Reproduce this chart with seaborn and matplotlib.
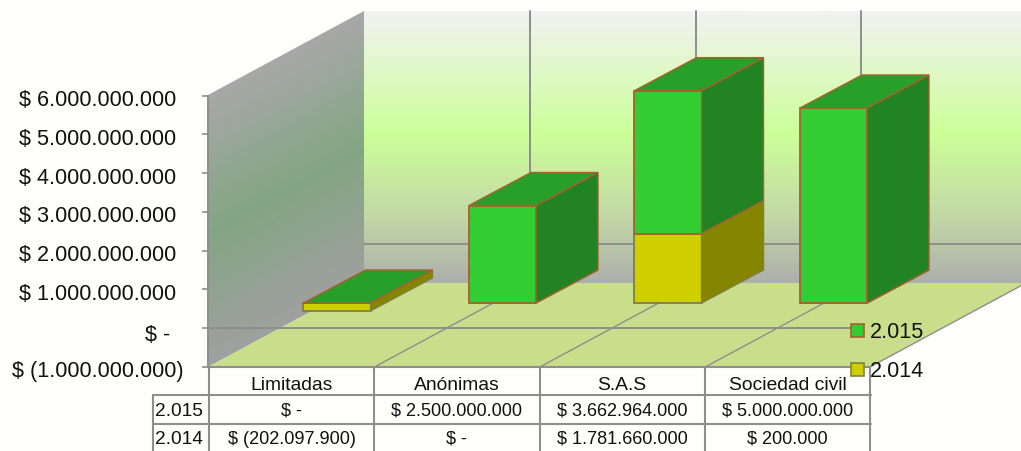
import matplotlib
matplotlib.use('Agg')
import matplotlib.pyplot as plt
import numpy as np
import seaborn as sns
from matplotlib.colors import LinearSegmentedColormap
from matplotlib.patches import Patch, Polygon
from matplotlib.transforms import ScaledTranslation

# Datos
categorias = ['Limitadas', 'Anónimas', 'S.A.S', 'Sociedad civil']
valores_2015 = [0, 2500000000, 3662964000, 5000000000]
valores_2014 = [-202097900, 0, 1781660000, 200000]
series = ['2.015', '2.014']
ticks_y = [-1000000000, 0, 1000000000, 2000000000, 3000000000,
           4000000000, 5000000000, 6000000000]

ANCHO, ALTO = 1021, 451
FONDO = '#FEFFFA'
GRIS = '#8E8E8E'
VERDE, VERDE_LADO, VERDE_TOPE = '#33CC33', '#228322', '#289F28'
AMARILLO, AMARILLO_LADO = '#CFCF00', '#858500'
BORDE_VERDE, BORDE_AMARILLO = '#A8602F', '#7F8040'


def formato(valor):
    # Formato contable con punto de miles
    if valor == 0:
        return '$ -'
    texto = f'{abs(valor):,.0f}'.replace(',', '.')
    return f'$ ({texto})' if valor < 0 else f'$ {texto}'


sns.set_theme(style='white')
plt.rcParams['font.family'] = ['Liberation Sans', 'DejaVu Sans']

fig = plt.figure(figsize=(ANCHO / 100, ALTO / 100), dpi=100, facecolor=FONDO)

# Paredes, piso y tabla en coordenadas de pixel
ax_fondo = fig.add_axes([0, 0, 1, 1], zorder=0)
ax_fondo.set_xlim(0, ANCHO)
ax_fondo.set_ylim(ALTO, 0)
ax_fondo.axis('off')

cmap_atras = LinearSegmentedColormap.from_list(
    'atras', [(0, '#F2F2F2'), (0.45, '#CCFF99'), (0.75, '#C3D8A6'), (1, '#ADAFAC')])
ax_fondo.imshow(np.linspace(0, 1, 256).reshape(-1, 1), cmap=cmap_atras, aspect='auto',
                extent=(364, ANCHO, 284, 11), zorder=1)

cmap_pared = LinearSegmentedColormap.from_list(
    'pared', [(0, '#A8A8A8'), (0.5, '#83A683'), (1, '#A0A0A0')])
xx, yy = np.meshgrid(np.linspace(208, 364, 160), np.linspace(11, 367, 360))
t = np.clip((yy + (xx - 208) * 84 / 156 - 95) / 272, 0, 1)
img = ax_fondo.imshow(t, cmap=cmap_pared, aspect='auto', extent=(208, 364, 367, 11), zorder=1)
pared = Polygon([(208, 95), (364, 11), (364, 283), (208, 367)], transform=ax_fondo.transData)
img.set_clip_path(pared)
ax_fondo.set_xlim(0, ANCHO)
ax_fondo.set_ylim(ALTO, 0)

ax_fondo.add_patch(Polygon([(208, 367), (870, 367), (1026, 283), (364, 283)],
                           facecolor='#C9DE8A', edgecolor='none', zorder=2))

# Lineas de division
ax_fondo.plot([364, ANCHO], [244, 244], color=GRIS, lw=1.4, zorder=2)
ax_fondo.plot([208, 852], [328, 328], color=GRIS, lw=1.4, zorder=3)
for k in range(1, 4):
    x0 = 209 + 165.4 * k
    ax_fondo.plot([x0 + 156, x0 + 156], [11, 284], color=GRIS, lw=1.4, zorder=2)
    ax_fondo.plot([x0, x0 + 156], [367, 283], color=GRIS, lw=1, zorder=3)
ax_fondo.plot([870, 1026], [367, 283], color=GRIS, lw=1, zorder=3)

# Tabla de datos
for k in range(5):
    x0 = 209 + 165.25 * k
    ax_fondo.plot([x0, x0], [367, ALTO], color=GRIS, lw=1.5, zorder=3)
ax_fondo.plot([209, 870], [367, 367], color=GRIS, lw=1.5, zorder=3)
ax_fondo.plot([153, 871], [395, 395], color=GRIS, lw=1.5, zorder=3)
ax_fondo.plot([153, 871], [424, 424], color=GRIS, lw=1.5, zorder=3)
ax_fondo.plot([153, 153], [395, ALTO], color=GRIS, lw=1.5, zorder=3)

for k, cat in enumerate(categorias):
    xc = 209 + 165.25 * (k + 0.5)
    ax_fondo.text(xc, 385, cat, ha='center', va='center', fontsize=13.9, color='#111111')
    ax_fondo.text(xc, 411, formato(valores_2015[k]), ha='center', va='center', fontsize=13.1, color='#111111')
    ax_fondo.text(xc, 439, formato(valores_2014[k]), ha='center', va='center', fontsize=13.1, color='#111111')
ax_fondo.text(179, 412, series[0], ha='center', va='center', fontsize=13.8, color='#111111')
ax_fondo.text(179, 440, series[1], ha='center', va='center', fontsize=13.8, color='#111111')

# Barras: la cara frontal con seaborn, los lados con poligonos
ax = fig.add_axes([0, 0, 1, 1], zorder=1)
ax.patch.set_alpha(0)
base_2015 = [max(v, 0) for v in valores_2014]
sns.barplot(x=categorias, y=valores_2014, color=AMARILLO, saturation=1, width=0.405,
            edgecolor=BORDE_AMARILLO, linewidth=1.3, ax=ax)
sns.barplot(x=categorias, y=valores_2015, bottom=base_2015, color=VERDE, saturation=1, width=0.405,
            edgecolor=BORDE_VERDE, linewidth=1.3, ax=ax)

PX_X, PX_Y = 165.5, 39e-9
ax.set_xlim(-337 / PX_X, (ANCHO - 337) / PX_X)
ax.set_ylim((303 - ALTO) / PX_Y, 303 / PX_Y)
ax.axis('off')

dx, dy = 62 / PX_X, 33 / PX_Y
for i in range(len(categorias)):
    der = i + 0.405 / 2
    izq = i - 0.405 / 2
    v14 = valores_2014[i]
    tope = base_2015[i] + valores_2015[i]
    ax.add_patch(Polygon([(der, min(v14, 0)), (der + dx, min(v14, 0) + dy),
                          (der + dx, max(v14, 0) + dy), (der, max(v14, 0))],
                         facecolor=AMARILLO_LADO, edgecolor=BORDE_AMARILLO, lw=1, zorder=1))
    ax.add_patch(Polygon([(der, base_2015[i]), (der + dx, base_2015[i] + dy),
                          (der + dx, tope + dy), (der, tope)],
                         facecolor=VERDE_LADO, edgecolor=BORDE_VERDE, lw=1, zorder=1))
    ax.add_patch(Polygon([(izq, tope), (der, tope), (der + dx, tope + dy), (izq + dx, tope + dy)],
                         facecolor=VERDE_TOPE, edgecolor=BORDE_VERDE, lw=1, zorder=1))

# Eje Y
ax_y = fig.add_axes([208 / ANCHO, 1 - 367 / ALTO, 0.001, (367 - 95.7) / ALTO], zorder=2)
ax_y.patch.set_alpha(0)
ax_y.set_ylim(ticks_y[0], ticks_y[-1])
ax_y.set_xticks([])
ax_y.set_yticks(ticks_y)
ax_y.set_yticklabels([formato(v) for v in ticks_y], fontsize=15.6, color='#111111')
ax_y.tick_params(axis='y', length=4, width=1.2, color=GRIS, pad=19.2, left=True)
for lado in ['top', 'right', 'bottom']:
    ax_y.spines[lado].set_visible(False)
ax_y.spines['left'].set_color(GRIS)
ax_y.spines['left'].set_linewidth(1.4)
for v, etiqueta in zip(ticks_y, ax_y.get_yticklabels()):
    extra = 8 if v < 0 else (-6 if v == 0 else 0)
    bajar = 5 if v == 0 else 2.5
    etiqueta.set_transform(etiqueta.get_transform() +
                           ScaledTranslation(extra / 100, -bajar / 100, fig.dpi_scale_trans))

# Leyenda
handles = [Patch(facecolor=VERDE, edgecolor=BORDE_VERDE, lw=1.2),
           Patch(facecolor=AMARILLO, edgecolor=BORDE_AMARILLO, lw=1.2)]
fig.legend(handles, series, loc='upper left', bbox_to_anchor=(851 / ANCHO, 1 - 322 / ALTO),
           frameon=False, fontsize=15.6, handlelength=0.6, handleheight=0.55, handletextpad=0.25,
           labelspacing=0.85, borderpad=0, borderaxespad=0, labelcolor='#111111')

fig.savefig('out.png', dpi=100, facecolor=FONDO)
